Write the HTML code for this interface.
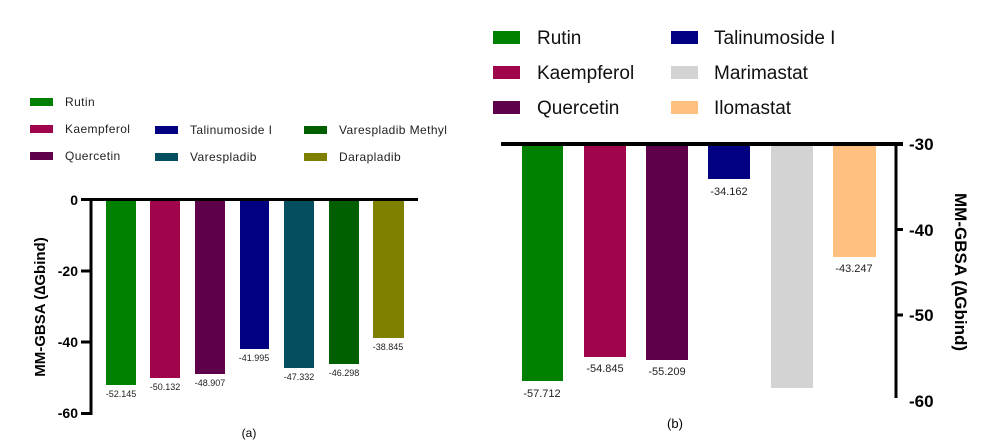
<!DOCTYPE html>
<html><head><meta charset="utf-8"><style>
html,body{margin:0;padding:0;background:#fff;}
svg{display:block;}
text{font-family:"Liberation Sans",sans-serif;}
</style></head><body>
<svg width="999" height="445" viewBox="0 0 999 445" xmlns="http://www.w3.org/2000/svg">
<g font-size="12" fill="#222" letter-spacing="0.4">
<rect x="30" y="98" width="23" height="8" fill="#008000"/><text x="65" y="106">Rutin</text>
<rect x="30" y="125" width="23" height="8" fill="#a0054b"/><text x="65" y="133">Kaempferol</text>
<rect x="30" y="152" width="23" height="8" fill="#5f004b"/><text x="65" y="160">Quercetin</text>
<rect x="155" y="126" width="23" height="8" fill="#000080"/><text x="190" y="134">Talinumoside I</text>
<rect x="155" y="153" width="23" height="8" fill="#034f60"/><text x="190" y="161">Varespladib</text>
<rect x="304" y="126" width="23" height="8" fill="#006000"/><text x="339" y="134">Varespladib Methyl</text>
<rect x="304" y="153" width="23" height="8" fill="#808000"/><text x="339" y="161">Darapladib</text>
</g>
<rect x="106" y="200" width="30" height="185" fill="#008000"/>
<rect x="150" y="200" width="30" height="178" fill="#a0054b"/>
<rect x="195" y="200" width="30" height="174" fill="#5f004b"/>
<rect x="240" y="200" width="29" height="149" fill="#000080"/>
<rect x="284" y="200" width="30" height="168" fill="#034f60"/>
<rect x="329" y="200" width="30" height="164" fill="#006000"/>
<rect x="373" y="200" width="31" height="138" fill="#808000"/>
<g font-size="9" fill="#222" text-anchor="middle">
<text x="121" y="397">-52.145</text>
<text x="165" y="390">-50.132</text>
<text x="210" y="386">-48.907</text>
<text x="254" y="361">-41.995</text>
<text x="299" y="380">-47.332</text>
<text x="344" y="376">-46.298</text>
<text x="388" y="350">-38.845</text>
</g>
<line x1="81" y1="199.5" x2="418" y2="199.5" stroke="#000" stroke-width="3"/>
<line x1="91" y1="198" x2="91" y2="415" stroke="#000" stroke-width="3"/>
<g stroke="#000" stroke-width="3">
<line x1="81" y1="271" x2="91" y2="271"/>
<line x1="81" y1="342" x2="91" y2="342"/>
<line x1="81" y1="413.5" x2="91" y2="413.5"/>
</g>
<g font-size="14" font-weight="bold" text-anchor="end">
<text x="78" y="205">0</text>
<text x="78" y="276">-20</text>
<text x="78" y="347">-40</text>
<text x="78" y="418">-60</text>
</g>
<text transform="translate(45,307) rotate(-90)" font-size="15" font-weight="bold" text-anchor="middle">MM-GBSA (∆Gbind)</text>
<text x="249" y="437" font-size="12" text-anchor="middle">(a)</text>

<g font-size="19" fill="#111">
<rect x="493" y="31" width="27" height="13" fill="#008000"/><text x="537" y="44">Rutin</text>
<rect x="493" y="66" width="27" height="13" fill="#a0054b"/><text x="537" y="79">Kaempferol</text>
<rect x="493" y="101" width="27" height="13" fill="#5f004b"/><text x="537" y="114">Quercetin</text>
<rect x="671" y="31" width="27" height="13" fill="#000080"/><text x="714" y="44">Talinumoside I</text>
<rect x="671" y="66" width="27" height="13" fill="#d3d3d3"/><text x="714" y="79">Marimastat</text>
<rect x="671" y="101" width="27" height="13" fill="#ffc080"/><text x="714" y="114">Ilomastat</text>
</g>
<rect x="522" y="144" width="41" height="237" fill="#008000"/>
<rect x="584" y="144" width="42" height="213" fill="#a0054b"/>
<rect x="646" y="144" width="42" height="216" fill="#5f004b"/>
<rect x="708" y="144" width="42" height="35" fill="#000080"/>
<rect x="771" y="144" width="42" height="244" fill="#d3d3d3"/>
<rect x="833" y="144" width="43" height="113" fill="#ffc080"/>
<g font-size="11" fill="#222" text-anchor="middle">
<text x="542" y="397">-57.712</text>
<text x="605" y="372">-54.845</text>
<text x="667" y="375">-55.209</text>
<text x="729" y="195">-34.162</text>
<text x="854" y="272">-43.247</text>
</g>
<line x1="501" y1="144" x2="903" y2="144" stroke="#000" stroke-width="4"/>
<line x1="896" y1="142" x2="896" y2="398" stroke="#000" stroke-width="3"/>
<g stroke="#000" stroke-width="3">
<line x1="896" y1="229.5" x2="903" y2="229.5"/>
<line x1="896" y1="315" x2="903" y2="315"/>
</g>
<g font-size="17" font-weight="bold">
<text x="909" y="150">-30</text>
<text x="909" y="236">-40</text>
<text x="909" y="321">-50</text>
<text x="909" y="407">-60</text>
</g>
<text transform="translate(955,272) rotate(90)" font-size="17" font-weight="bold" text-anchor="middle">MM-GBSA (∆Gbind)</text>
<text x="675" y="428" font-size="13" text-anchor="middle">(b)</text>
</svg>
</body></html>
